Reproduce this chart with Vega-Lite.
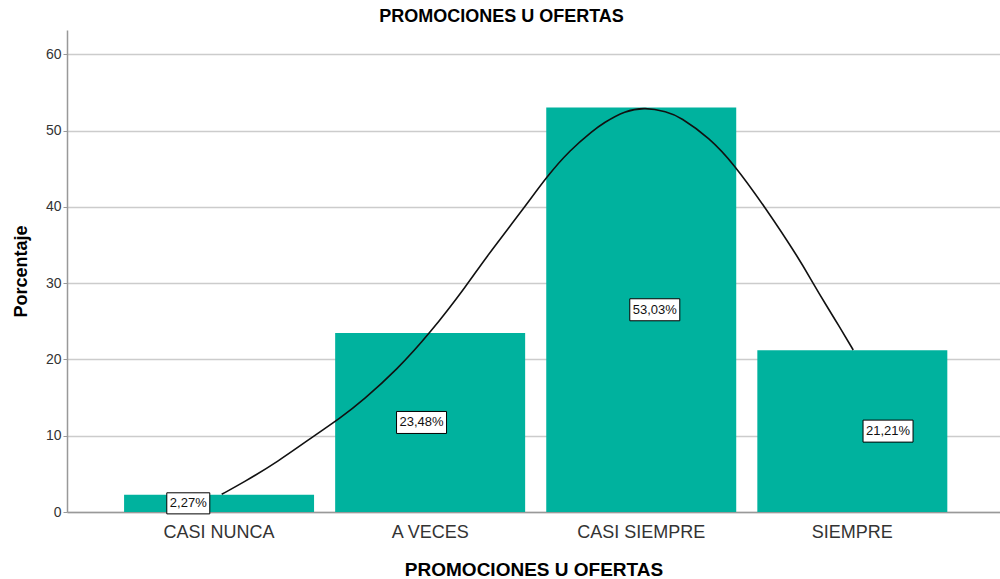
{
  "$schema": "https://vega.github.io/schema/vega-lite/v6.json",
  "width": 933,
  "height": 482,
  "autosize": "none",
  "padding": {"left": 67, "top": 30, "right": 0, "bottom": 67},
  "background": "white",
  "config": {
    "font": "Liberation Sans",
    "view": {"stroke": null},
    "axis": {"labelFont": "Liberation Sans", "titleFont": "Liberation Sans"}
  },
  "title": {
    "text": "PROMOCIONES U OFERTAS",
    "fontSize": 18,
    "fontWeight": "bold",
    "font": "Liberation Sans",
    "color": "#000",
    "anchor": "middle",
    "dx": -32,
    "offset": 4
  },
  "datasets": {
    "bars": [
      {"cat": "CASI NUNCA", "pct": 2.27, "label": "2,27%"},
      {"cat": "A VECES", "pct": 23.48, "label": "23,48%"},
      {"cat": "CASI SIEMPRE", "pct": 53.03, "label": "53,03%"},
      {"cat": "SIEMPRE", "pct": 21.21, "label": "21,21%"}
    ],
    "curve": [
      {"c": 1.0128, "v": 2.32},
      {"c": 1.1151, "v": 3.87},
      {"c": 1.2733, "v": 6.49},
      {"c": 1.4628, "v": 10.23},
      {"c": 1.5732, "v": 12.29},
      {"c": 1.6836, "v": 14.68},
      {"c": 1.8418, "v": 18.62},
      {"c": 1.9995, "v": 23.43},
      {"c": 2.181, "v": 29.99},
      {"c": 2.252, "v": 32.91},
      {"c": 2.4496, "v": 40.03},
      {"c": 2.5523, "v": 43.96},
      {"c": 2.6627, "v": 47.46},
      {"c": 2.7717, "v": 50.01},
      {"c": 2.8205, "v": 51.0},
      {"c": 2.9233, "v": 52.62},
      {"c": 3.018, "v": 53.06},
      {"c": 3.1208, "v": 52.51},
      {"c": 3.1838, "v": 51.83},
      {"c": 3.3259, "v": 49.0},
      {"c": 3.4363, "v": 45.72},
      {"c": 3.5864, "v": 40.0},
      {"c": 3.7522, "v": 33.04},
      {"c": 3.8138, "v": 30.0},
      {"c": 3.8787, "v": 27.01},
      {"c": 3.9418, "v": 24.19},
      {"c": 4.0047, "v": 21.24}
    ]
  },
  "layer": [
    {
      "data": {"name": "bars"},
      "mark": {"type": "bar", "color": "#00b29e"},
      "encoding": {
        "x": {
          "field": "cat",
          "type": "nominal",
          "sort": ["CASI NUNCA", "A VECES", "CASI SIEMPRE", "SIEMPRE"],
          "scale": {"paddingInner": 0.1, "paddingOuter": 0.26, "align": 0.52},
          "axis": {
            "title": "PROMOCIONES U OFERTAS",
            "titleFontSize": 19,
            "titleFontWeight": "bold",
            "titleColor": "#000",
            "titlePadding": 19,
            "labelFontSize": 18,
            "labelColor": "#333",
            "labelAngle": 0,
            "ticks": false,
            "labelPadding": 11,
            "domainColor": "#999",
            "domainWidth": 1.5,
            "grid": false
          }
        },
        "y": {
          "field": "pct",
          "type": "quantitative",
          "title": "Porcentaje",
          "scale": {"domain": [0, 63.2], "nice": false},
          "axis": {
            "title": "Porcentaje",
            "titleFontSize": 18,
            "titleFontWeight": "bold",
            "titleColor": "#000",
            "titlePadding": 15,
            "labelFontSize": 14,
            "labelColor": "#333",
            "tickSize": 4,
            "tickColor": "#999",
            "labelPadding": 2,
            "domainColor": "#999",
            "domainWidth": 1.5,
            "gridColor": "#cccccc",
            "gridWidth": 1.5,
            "values": [0, 10, 20, 30, 40, 50, 60]
          }
        }
      }
    },
    {
      "data": {"name": "curve"},
      "mark": {"type": "line", "color": "#111", "strokeWidth": 1.6, "interpolate": "basis"},
      "encoding": {
        "x": {
          "field": "c",
          "type": "quantitative",
          "scale": {"domain": [0.28, 4.7], "nice": false, "zero": false},
          "axis": null
        },
        "y": {"field": "v", "type": "quantitative", "title": "Porcentaje"}
      }
    },
    {
      "data": {"name": "bars"},
      "transform": [{"calculate": "datum.pct / 2", "as": "mid"}],
      "mark": {"type": "point", "fill": "white", "stroke": "#000", "strokeWidth": 1, "opacity": 1, "fillOpacity": 1},
      "encoding": {
        "x": {
          "field": "cat",
          "type": "nominal",
          "sort": ["CASI NUNCA", "A VECES", "CASI SIEMPRE", "SIEMPRE"],
          "scale": {"paddingInner": 0.1, "paddingOuter": 0.26, "align": 0.52},
          "axis": null
        },
        "y": {"field": "mid", "type": "quantitative", "title": "Porcentaje"},
        "shape": {
          "condition": {"test": "datum.pct < 10", "value": "M -1 -0.49 L 1 -0.49 L 1 0.49 L -1 0.49 Z"},
          "value": "M -1 -0.44 L 1 -0.44 L 1 0.44 L -1 0.44 Z"
        },
        "size": {
          "condition": {"test": "datum.pct < 10", "value": 1849},
          "value": 2500
        }
      }
    },
    {
      "data": {"name": "bars"},
      "transform": [{"calculate": "datum.pct / 2", "as": "mid"}],
      "mark": {"type": "text", "fontSize": 13, "color": "#111", "align": "center", "baseline": "middle", "font": "Liberation Sans"},
      "encoding": {
        "x": {
          "field": "cat",
          "type": "nominal",
          "sort": ["CASI NUNCA", "A VECES", "CASI SIEMPRE", "SIEMPRE"],
          "scale": {"paddingInner": 0.1, "paddingOuter": 0.26, "align": 0.52},
          "axis": null
        },
        "y": {"field": "mid", "type": "quantitative", "title": "Porcentaje"},
        "text": {"field": "label"}
      }
    }
  ],
  "resolve": {"scale": {"x": "independent"}}
}
